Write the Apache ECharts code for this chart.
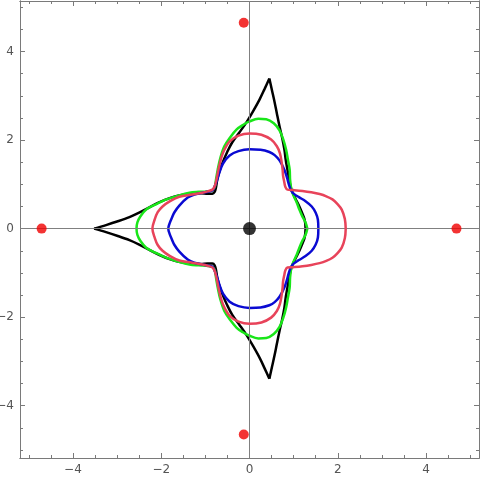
<!DOCTYPE html>
<html>
<head>
<meta charset="utf-8">
<script src="https://cdn.jsdelivr.net/npm/echarts@6/dist/echarts.min.js"></script>
<style>
  html, body { margin: 0; padding: 0; background: #fff; }
  #main { width: 480px; height: 477px; }
</style>
</head>
<body>
<div id="main"></div>
<script>
// curve points [x, y]
// black curve has three cusps, so it is kept as three arcs between them
var blackRightArc = [
  [0.45,3.39],[0.51,3.12],[0.57,2.85],[0.62,2.6],[0.68,2.31],[0.74,2.05],[0.79,1.79],[0.82,1.56],[0.86,1.33],[0.90,1.1],
  [0.95,0.88],[1.04,0.68],[1.13,0.5],[1.19,0.36],[1.25,0.2],[1.27,0],[1.25,-0.2],[1.19,-0.36],[1.13,-0.5],[1.04,-0.68],
  [0.95,-0.88],[0.90,-1.1],[0.86,-1.33],[0.82,-1.56],[0.79,-1.79],[0.74,-2.05],[0.68,-2.31],[0.62,-2.6],[0.57,-2.85],[0.51,-3.12],
  [0.45,-3.39]
];
var blackUpperArc = [
  [0.45,3.39],[0.34,3.15],[0.23,2.92],[0.08,2.65],[-0.07,2.40],[-0.23,2.17],[-0.39,1.95],[-0.51,1.72],[-0.61,1.49],[-0.68,1.3],
  [-0.73,1.11],[-0.76,0.93],[-0.79,0.83],[-0.84,0.79],[-0.95,0.79],[-1.1,0.80],[-1.36,0.79],[-1.6,0.75],[-1.81,0.69],[-2.05,0.59],
  [-2.27,0.48],[-2.5,0.36],[-2.72,0.26],[-3.0,0.16],[-3.25,0.08],[-3.52,0]
];
var blackLowerArc = [
  [-3.52,0],[-3.25,-0.08],[-3.0,-0.16],[-2.72,-0.26],[-2.5,-0.36],[-2.27,-0.48],[-2.05,-0.59],[-1.81,-0.69],[-1.6,-0.75],[-1.36,-0.79],
  [-1.1,-0.80],[-0.95,-0.79],[-0.84,-0.79],[-0.79,-0.83],[-0.76,-0.93],[-0.73,-1.11],[-0.68,-1.3],[-0.61,-1.49],[-0.51,-1.72],[-0.39,-1.95],
  [-0.23,-2.17],[-0.07,-2.40],[0.08,-2.65],[0.23,-2.92],[0.34,-3.15],[0.45,-3.39]
];

var greenCurve = [
  [1.31,0],[1.27,0.14],[1.20,0.27],[1.13,0.43],[1.07,0.59],[1.0,0.74],[0.95,0.88],[0.92,1.1],[0.91,1.33],[0.87,1.56],
  [0.83,1.78],[0.77,2.0],[0.68,2.22],[0.55,2.38],[0.38,2.47],[0.2,2.48],[0.0,2.42],[-0.15,2.34],[-0.29,2.24],[-0.44,2.06],
  [-0.57,1.86],[-0.66,1.6],[-0.72,1.33],[-0.76,1.1],[-0.79,0.93],[-0.85,0.86],[-0.98,0.84],[-1.15,0.83],[-1.36,0.81],[-1.6,0.75],
  [-1.88,0.66],[-2.12,0.55],[-2.34,0.43],[-2.47,0.28],[-2.54,0.14],[-2.56,0],
  [-2.54,-0.14],[-2.47,-0.28],[-2.34,-0.43],[-2.12,-0.55],[-1.88,-0.66],[-1.6,-0.75],[-1.36,-0.81],[-1.15,-0.83],[-0.98,-0.84],[-0.85,-0.86],
  [-0.79,-0.93],[-0.76,-1.1],[-0.72,-1.33],[-0.66,-1.6],[-0.57,-1.86],[-0.44,-2.06],[-0.29,-2.24],[-0.15,-2.34],[0.0,-2.42],[0.2,-2.48],
  [0.38,-2.47],[0.55,-2.38],[0.68,-2.22],[0.77,-2.0],[0.83,-1.78],[0.87,-1.56],[0.91,-1.33],[0.92,-1.1],[0.95,-0.88],[1.0,-0.74],
  [1.07,-0.59],[1.13,-0.43],[1.20,-0.27],[1.27,-0.14],[1.31,0]
];

var redCurve = [
  [2.18,0],[2.16,0.22],[2.09,0.43],[1.99,0.56],[1.88,0.66],[1.74,0.73],[1.59,0.78],[1.40,0.82],[1.20,0.85],[1.0,0.87],
  [0.86,0.88],[0.81,0.95],[0.79,1.04],[0.76,1.2],[0.75,1.33],[0.73,1.49],[0.69,1.7],[0.62,1.86],[0.49,2.01],[0.27,2.12],
  [0.0,2.15],[-0.25,2.1],[-0.45,1.97],[-0.56,1.8],[-0.63,1.63],[-0.70,1.35],[-0.75,1.1],[-0.79,0.95],[-0.84,0.88],[-0.95,0.84],
  [-1.07,0.81],[-1.3,0.77],[-1.59,0.72],[-1.8,0.62],[-1.97,0.50],[-2.08,0.37],[-2.15,0.2],[-2.2,0],
  [-2.15,-0.2],[-2.08,-0.37],[-1.97,-0.50],[-1.8,-0.62],[-1.59,-0.72],[-1.3,-0.77],[-1.07,-0.81],[-0.95,-0.84],[-0.84,-0.88],[-0.79,-0.95],
  [-0.75,-1.1],[-0.70,-1.35],[-0.63,-1.63],[-0.56,-1.8],[-0.45,-1.97],[-0.25,-2.1],[0.0,-2.15],[0.27,-2.12],[0.49,-2.01],[0.62,-1.86],
  [0.69,-1.7],[0.73,-1.49],[0.75,-1.33],[0.76,-1.2],[0.79,-1.04],[0.81,-0.95],[0.86,-0.88],[1.0,-0.87],[1.20,-0.85],[1.40,-0.82],
  [1.59,-0.78],[1.74,-0.73],[1.88,-0.66],[1.99,-0.56],[2.09,-0.43],[2.16,-0.22],[2.18,0]
];

var blueCurve = [
  [1.56,0],[1.55,0.2],[1.50,0.36],[1.41,0.50],[1.27,0.62],[1.12,0.71],[1.0,0.79],[0.94,0.87],[0.90,0.97],[0.85,1.15],
  [0.79,1.33],[0.68,1.54],[0.57,1.66],[0.45,1.73],[0.25,1.78],[0,1.79],[-0.25,1.75],[-0.45,1.65],[-0.60,1.47],[-0.68,1.27],
  [-0.74,1.08],[-0.79,0.95],[-0.83,0.87],[-0.92,0.84],[-1.07,0.81],[-1.25,0.77],[-1.40,0.70],[-1.59,0.52],[-1.70,0.37],[-1.76,0.24],
  [-1.81,0.12],[-1.84,0],
  [-1.81,-0.12],[-1.76,-0.24],[-1.70,-0.37],[-1.59,-0.52],[-1.40,-0.70],[-1.25,-0.77],[-1.07,-0.81],[-0.92,-0.84],[-0.83,-0.87],[-0.79,-0.95],
  [-0.74,-1.08],[-0.68,-1.27],[-0.60,-1.47],[-0.45,-1.65],[-0.25,-1.75],[0,-1.79],[0.25,-1.78],[0.45,-1.73],[0.57,-1.66],[0.68,-1.54],
  [0.79,-1.33],[0.85,-1.15],[0.90,-0.97],[0.94,-0.87],[1.0,-0.79],[1.12,-0.71],[1.27,-0.62],[1.41,-0.50],[1.50,-0.36],[1.55,-0.2],
  [1.56,0]
];

var redPoints = [[-4.71, 0], [4.69, 0], [-0.13, 4.65], [-0.13, -4.65]];
var centerPoint = [[0, 0]];

var majorTicks = [-4, -2, 0, 2, 4];
var minorTicks = [-5, -4.5, -3.5, -3, -2.5, -1.5, -1, -0.5, 0.5, 1, 1.5, 2.5, 3, 3.5, 4.5, 5];

var xMin = -5.2, xMax = 5.2;
var yMin = -5.18, yMax = 5.14;

var frameColor = '#7a7a7a';
var labelColor = '#555';

function minus(v) { return String(v).replace('-', '\u2212'); }

function frameAxis(pos, min, max, ticks, len, labels) {
  return {
    type: 'value', position: pos, min: min, max: max,
    axisLine: { show: true, onZero: false, lineStyle: { color: frameColor, width: 1 } },
    axisTick: { show: true, inside: true, length: len, customValues: ticks, lineStyle: { color: frameColor, width: 1 } },
    axisLabel: labels ? { show: true, customValues: ticks, formatter: minus, color: labelColor,
                          fontSize: 12, fontFamily: 'DejaVu Sans', margin: 6 } : { show: false },
    splitLine: { show: false }
  };
}

function curve(data, color, z) {
  return { type: 'line', data: data, smooth: 0.35, showSymbol: false, symbol: 'none', z: z,
           lineStyle: { color: color, width: 2.5 } };
}

var myChart = echarts.init(document.getElementById('main'), null, { renderer: 'canvas' });

var option = {
  animation: false,
  grid: { left: 20, right: 1, top: 1, bottom: 19, containLabel: false, outerBoundsMode: 'none' },
  xAxis: [
    frameAxis('bottom', xMin, xMax, majorTicks, 5, true),
    frameAxis('bottom', xMin, xMax, minorTicks, 3, false),
    frameAxis('top', xMin, xMax, majorTicks, 5, false),
    frameAxis('top', xMin, xMax, minorTicks, 3, false)
  ],
  yAxis: [
    frameAxis('left', yMin, yMax, majorTicks, 5, true),
    frameAxis('left', yMin, yMax, minorTicks, 3, false),
    frameAxis('right', yMin, yMax, majorTicks, 5, false),
    frameAxis('right', yMin, yMax, minorTicks, 3, false)
  ],
  series: [
    {
      // axes through the origin
      type: 'line', data: [], z: 1, silent: true,
      markLine: {
        silent: true, symbol: 'none', label: { show: false },
        lineStyle: { color: '#808080', width: 1, type: 'solid' },
        data: [{ xAxis: 0 }, { yAxis: 0 }]
      }
    },
    curve(blackRightArc, '#000000', 2),
    curve(blackUpperArc, '#000000', 2),
    curve(blackLowerArc, '#000000', 2),
    curve(greenCurve, '#19e619', 3),
    curve(blueCurve, '#0a0ad2', 4),
    curve(redCurve, '#e8435a', 5),
    { type: 'scatter', data: redPoints, symbolSize: 10, z: 6,
      itemStyle: { color: '#f00000' } },
    { type: 'scatter', data: centerPoint, symbolSize: 13, z: 6,
      itemStyle: { color: '#000000' } }
  ]
};

myChart.setOption(option);
</script>
</body>
</html>
